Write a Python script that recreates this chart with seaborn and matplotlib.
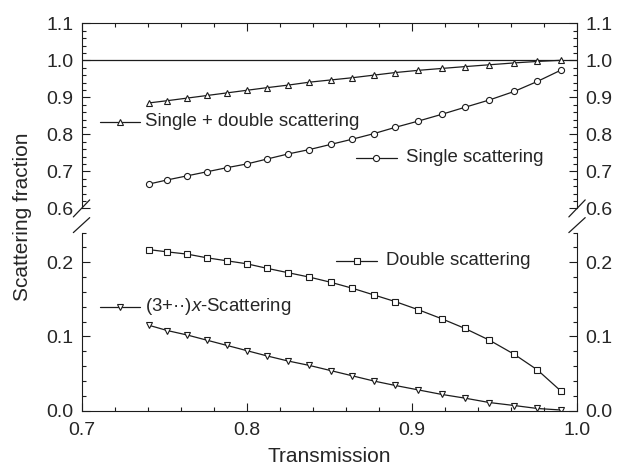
import matplotlib
matplotlib.use("Agg")
import matplotlib.pyplot as plt
from matplotlib.ticker import MultipleLocator, FormatStrFormatter
import seaborn as sns

# Transmission of the sample (x axis)
transmission = [0.741, 0.752, 0.764, 0.776, 0.788, 0.800, 0.812, 0.825, 0.838, 0.851,
                0.864, 0.877, 0.890, 0.904, 0.918, 0.932, 0.947, 0.962, 0.976, 0.990]

# Scattering fractions
single_double = [0.885, 0.891, 0.898, 0.905, 0.912, 0.919, 0.926, 0.933, 0.941, 0.947,
                 0.953, 0.960, 0.967, 0.973, 0.978, 0.983, 0.988, 0.993, 0.997, 1.000]
single = [0.666, 0.677, 0.688, 0.699, 0.710, 0.720, 0.733, 0.747, 0.759, 0.773,
          0.787, 0.802, 0.819, 0.836, 0.854, 0.873, 0.893, 0.916, 0.943, 0.973]
double = [0.217, 0.214, 0.211, 0.206, 0.202, 0.198, 0.192, 0.186, 0.180, 0.173,
          0.165, 0.156, 0.147, 0.136, 0.124, 0.111, 0.095, 0.076, 0.055, 0.027]
multiple = [0.115, 0.108, 0.102, 0.095, 0.088, 0.081, 0.074, 0.067, 0.061, 0.054,
            0.047, 0.040, 0.034, 0.028, 0.022, 0.017, 0.011, 0.007, 0.003, 0.001]

upper_ticks = [0.6, 0.7, 0.8, 0.9, 1.0, 1.1]
lower_ticks = [0.0, 0.1, 0.2]
x_ticks = [0.7, 0.8, 0.9, 1.0]

sns.set_theme(style="ticks")
plt.rcParams["font.family"] = ["Liberation Sans", "DejaVu Sans"]
plt.rcParams["mathtext.fontset"] = "custom"
plt.rcParams["mathtext.rm"] = "Liberation Sans"
plt.rcParams["mathtext.it"] = "Liberation Sans:italic"

ink = "#1c1c1c"
txt = "#262626"
lw = 0.9
tick_fs = 14
note_fs = 13.4

fig = plt.figure(figsize=(6.18, 4.68), dpi=100)
ax_top = fig.add_axes([0.1319, 0.5547, 0.8018, 0.3955])
ax_bot = fig.add_axes([0.1319, 0.1224, 0.8018, 0.3806])

style = dict(color=ink, linewidth=lw, markerfacecolor="white",
             markeredgecolor=ink, markeredgewidth=0.8)

ax_top.axhline(1.0, color=ink, linewidth=lw)
sns.lineplot(x=transmission, y=single_double, ax=ax_top, marker="^", markersize=4.6, **style)
sns.lineplot(x=transmission, y=single, ax=ax_top, marker="o", markersize=4.4, **style)
sns.lineplot(x=transmission, y=double, ax=ax_bot, marker="s", markersize=3.9, **style)
sns.lineplot(x=transmission, y=multiple, ax=ax_bot, marker="v", markersize=4.6, **style)

for ax in (ax_top, ax_bot):
    ax.set_xlim(0.7, 1.0)
    ax.set_xticks(x_ticks)
    ax.xaxis.set_minor_locator(MultipleLocator(0.02))
    ax.yaxis.set_minor_locator(MultipleLocator(0.02))
    ax.yaxis.set_major_formatter(FormatStrFormatter("%.1f"))
    ax.xaxis.set_major_formatter(FormatStrFormatter("%.1f"))
    ax.tick_params(which="both", direction="in", left=True, right=True,
                   labelleft=True, labelright=True, color=ink,
                   labelcolor=txt, labelsize=tick_fs)
    ax.tick_params(axis="y", which="both", pad=6)
    ax.tick_params(axis="x", which="both", pad=8)
    ax.tick_params(which="major", length=5.8, width=0.8)
    ax.tick_params(which="minor", length=3.2, width=0.8)
    for sp in ax.spines.values():
        sp.set_color(ink)
        sp.set_linewidth(0.8)
    ax.set_xlabel("")
    ax.set_ylabel("")

ax_top.set_ylim(0.6, 1.1)
ax_top.set_yticks(upper_ticks)
ax_top.tick_params(which="both", top=True, bottom=False, labelbottom=False)
ax_top.spines["bottom"].set_visible(False)

ax_bot.set_ylim(0.0, 0.24)
ax_bot.set_yticks(lower_ticks)
ax_bot.tick_params(which="both", top=False, bottom=True, labelbottom=True)
ax_bot.spines["top"].set_visible(False)

# axis-break marks on both side spines
dx = 0.0165
for xs in (0.0, 1.0):
    ax_top.plot([xs - dx, xs + dx], [-0.046, 0.046], transform=ax_top.transAxes,
                color=ink, linewidth=lw, clip_on=False)
    ax_bot.plot([xs - dx, xs + dx], [1.0, 1.084], transform=ax_bot.transAxes,
                color=ink, linewidth=lw, clip_on=False)


def curve_key(ax, x0, x1, y, marker, ms, label, tx):
    ax.plot([x0, (x0 + x1) / 2, x1], [y, y, y], transform=ax.transAxes,
            marker=marker, markersize=ms, markevery=[1], clip_on=False, **style)
    ax.text(tx, y, label, transform=ax.transAxes, ha="left", va="center",
            fontsize=note_fs, color=txt)


curve_key(ax_top, 0.037, 0.118, 0.468, "^", 4.6, "Single + double scattering", 0.128)
curve_key(ax_top, 0.554, 0.636, 0.274, "o", 4.4, "Single scattering", 0.655)
curve_key(ax_bot, 0.514, 0.596, 0.842, "s", 3.9, "Double scattering", 0.614)
curve_key(ax_bot, 0.037, 0.118, 0.584, "v", 4.6, "(3+\u00b7\u00b7)$x$-Scattering", 0.128)

fig.text(0.036, 0.536, "Scattering fraction", rotation=90, ha="center", va="center",
         fontsize=15, color=txt)
fig.text(0.532, 0.025, "Transmission", ha="center", va="center", fontsize=15, color=txt)

fig.savefig("out.png", dpi=100)
